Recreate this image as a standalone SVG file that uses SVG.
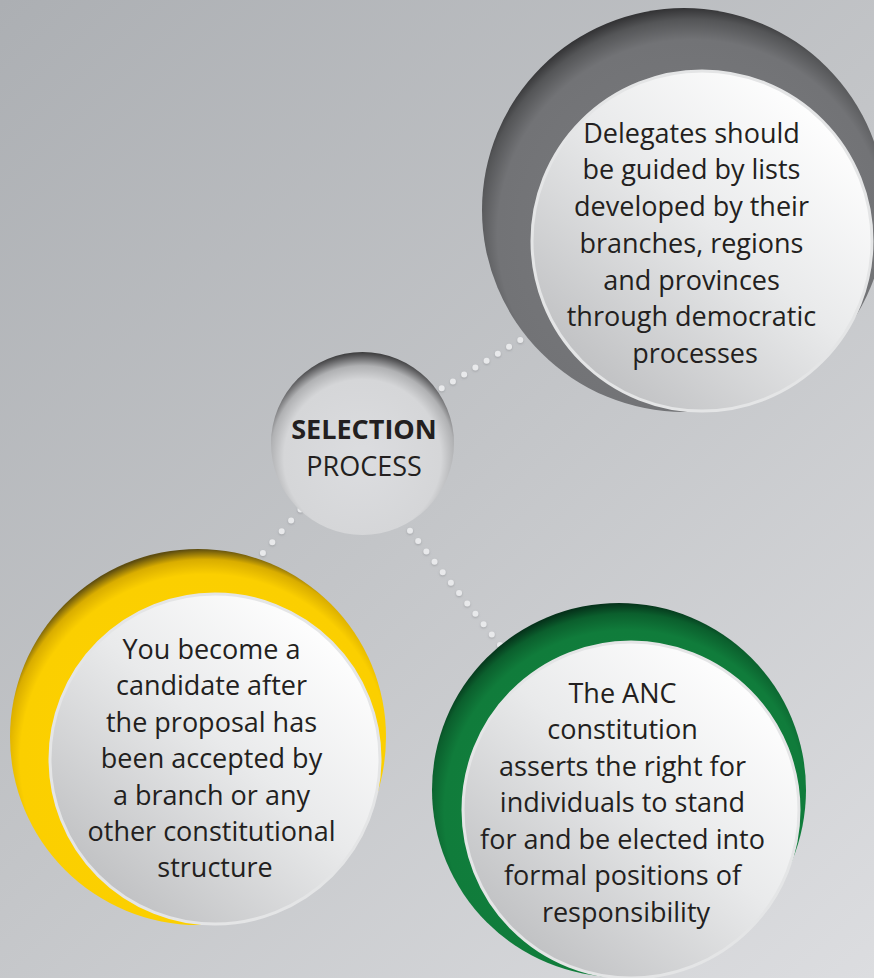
<svg xmlns="http://www.w3.org/2000/svg" width="874" height="978" viewBox="0 0 874 978">
  <defs>
    <linearGradient id="bg" x1="0" y1="0" x2="874" y2="978" gradientUnits="userSpaceOnUse">
      <stop offset="0" stop-color="#acafb3"/>
      <stop offset="0.5" stop-color="#c3c5c8"/>
      <stop offset="1" stop-color="#dcdde0"/>
    </linearGradient>
    <linearGradient id="face" x1="0.85" y1="0.1" x2="0.15" y2="0.9">
      <stop offset="0" stop-color="#ffffff"/>
      <stop offset="0.45" stop-color="#e9eaeb"/>
      <stop offset="1" stop-color="#bfc0c2"/>
    </linearGradient>
    <radialGradient id="hubGrad" cx="0.5" cy="0.58" r="0.58">
      <stop offset="0" stop-color="#dcdde0"/>
      <stop offset="0.74" stop-color="#d5d6d8"/>
      <stop offset="0.87" stop-color="#b0b1b3"/>
      <stop offset="0.96" stop-color="#5c5c5e"/>
      <stop offset="1" stop-color="#3a3a3b"/>
    </radialGradient>
    <radialGradient id="grayRing" cx="0.52" cy="0.56" r="0.56">
      <stop offset="0" stop-color="#7b7c7f"/>
      <stop offset="0.86" stop-color="#727376"/>
      <stop offset="0.95" stop-color="#545557"/>
      <stop offset="1" stop-color="#343436"/>
    </radialGradient>
    <radialGradient id="yellowRing" cx="0.52" cy="0.56" r="0.56">
      <stop offset="0" stop-color="#ffd200"/>
      <stop offset="0.88" stop-color="#fbcf00"/>
      <stop offset="0.95" stop-color="#d9ad00"/>
      <stop offset="1" stop-color="#5e4d10"/>
    </radialGradient>
    <radialGradient id="greenRing" cx="0.52" cy="0.56" r="0.56">
      <stop offset="0" stop-color="#13843f"/>
      <stop offset="0.87" stop-color="#107c3b"/>
      <stop offset="0.95" stop-color="#0b5f2d"/>
      <stop offset="1" stop-color="#05321a"/>
    </radialGradient>
    <filter id="dotShadow" x="-20%" y="-20%" width="140%" height="140%">
      <feDropShadow dx="0" dy="1" stdDeviation="1.2" flood-color="#8a8c90" flood-opacity="0.6"/>
    </filter>
  </defs>
  <style>
    .dots { fill: none; stroke: #e8e9eb; stroke-width: 6; stroke-linecap: round; filter: url(#dotShadow); }
    .face { fill: url(#face); stroke: #e4e5e6; stroke-width: 3; }
    .txt { font-family: "Open Sans", "Noto Sans", "Liberation Sans", sans-serif; font-size: 27px; fill: #231f20; text-anchor: middle; }
    .bold { font-weight: bold; }
  </style>

  <rect width="874" height="978" fill="url(#bg)"/>

  <g id="connectors">
    <line class="dots" x1="441.7" y1="388.3" x2="521" y2="339.5" stroke-dasharray="0 13.18"/>
    <line class="dots" x1="300.5" y1="509.5" x2="253.5" y2="564" stroke-dasharray="0 14.39"/>
    <line class="dots" x1="410" y1="530.7" x2="500" y2="645" stroke-dasharray="0 13.22"/>
  </g>

  <g id="node-center">
    <circle cx="362.5" cy="443.5" r="91.5" fill="url(#hubGrad)"/>
    <text class="txt bold" x="364" y="439.3">SELECTION</text>
    <text class="txt" x="364" y="475.7">PROCESS</text>
  </g>

  <g id="node-delegates">
    <circle cx="684" cy="210" r="202" fill="url(#grayRing)"/>
    <circle class="face" cx="702" cy="241" r="170"/>
    <text class="txt" x="695">
      <tspan x="695" y="142.7">Delegates should</tspan>
      <tspan x="695" y="179.4">be guided by lists</tspan>
      <tspan x="695" y="216.1">developed by their</tspan>
      <tspan x="695" y="252.8">branches, regions</tspan>
      <tspan x="695" y="289.5">and provinces</tspan>
      <tspan x="695" y="326.2">through democratic</tspan>
      <tspan x="695" y="362.9">processes</tspan>
    </text>
  </g>

  <g id="node-candidate">
    <circle cx="198" cy="737" r="188" fill="url(#yellowRing)"/>
    <circle class="face" cx="215" cy="759" r="165"/>
    <text class="txt" x="215">
      <tspan x="215" y="659">You become a</tspan>
      <tspan x="215" y="695.4">candidate after</tspan>
      <tspan x="215" y="731.8">the proposal has</tspan>
      <tspan x="215" y="768.2">been accepted by</tspan>
      <tspan x="215" y="804.6">a branch or any</tspan>
      <tspan x="215" y="841">other constitutional</tspan>
      <tspan x="215" y="877.4">structure</tspan>
    </text>
  </g>

  <g id="node-constitution">
    <circle cx="619" cy="790" r="187" fill="url(#greenRing)"/>
    <circle class="face" cx="631" cy="810" r="168"/>
    <text class="txt" x="626">
      <tspan x="626" y="702.7">The ANC</tspan>
      <tspan x="626" y="739.2">constitution</tspan>
      <tspan x="626" y="775.7">asserts the right for</tspan>
      <tspan x="626" y="812.2">individuals to stand</tspan>
      <tspan x="626" y="848.7">for and be elected into</tspan>
      <tspan x="626" y="885.2">formal positions of</tspan>
      <tspan x="626" y="921.7">responsibility</tspan>
    </text>
  </g>
</svg>
